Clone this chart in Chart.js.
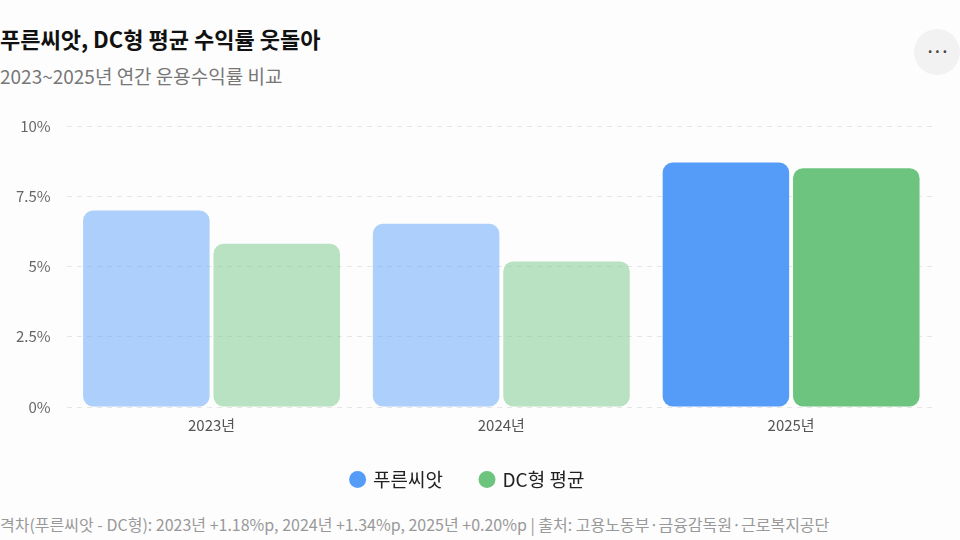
<!DOCTYPE html>
<html>
<head>
<meta charset="utf-8">
<script src="https://cdn.jsdelivr.net/npm/chart.js@4/dist/chart.umd.min.js"></script>
<style>
  body { margin: 0; background: #fdfdfd; font-family: "Noto Sans CJK KR", "Noto Sans", sans-serif; }
  #wrap { position: relative; width: 960px; height: 540px; overflow: hidden; }
  #title { position: absolute; left: 0; top: 22px; font-size: 22px; font-weight: bold; color: #111; }
  #subtitle { position: absolute; left: 0; top: 62px; font-size: 19px; color: #777; }
  #more { position: absolute; left: 914px; top: 29px; width: 46px; height: 46px; border-radius: 50%; background: #f2f2f2; color: #444; text-align: center; line-height: 44px; font-size: 14px; font-weight: bold; letter-spacing: -1px; }
  #box { position: absolute; left: 0; top: 101px; width: 960px; height: 398px; }
  #footer { position: absolute; left: 0; top: 512px; font-size: 16px; color: #999; }
</style>
</head>
<body>
<div id="wrap">
  <div id="box"><canvas id="chartCanvas"></canvas></div>
  <div id="title">푸른씨앗, DC형 평균 수익률 웃돌아</div>
  <div id="subtitle">2023~2025년 연간 운용수익률 비교</div>
  <div id="more">···</div>
  <div id="footer">격차(푸른씨앗 - DC형): 2023년 +1.18%p, 2024년 +1.34%p, 2025년 +0.20%p | 출처: 고용노동부·금융감독원·근로복지공단</div>
</div>
<script>
var years = ['2023년', '2024년', '2025년'];
var pureunValues = [6.99, 6.52, 8.70];
var dcValues = [5.81, 5.18, 8.50];
var yTicks = [0, 2.5, 5, 7.5, 10];

var blueSolid = 'rgba(85,156,248,1)';
var blueFade = 'rgba(85,156,248,0.48)';
var greenSolid = 'rgba(108,196,127,1)';
var greenFade = 'rgba(108,196,127,0.48)';

var ctx = document.getElementById('chartCanvas');

var myChart = new Chart(ctx, {
    type: 'bar',
    data: {
        labels: years,
        datasets: [{
            label: '푸른씨앗',
            data: pureunValues,
            backgroundColor: [blueFade, blueFade, blueSolid],
            borderWidth: 0,
            borderRadius: 10,
            borderSkipped: false
        },
        {
            label: 'DC형 평균',
            data: dcValues,
            backgroundColor: [greenFade, greenFade, greenSolid],
            borderWidth: 0,
            borderRadius: 10,
            borderSkipped: false
        }]
    },
    options: {
        responsive: true,
        maintainAspectRatio: false,
        animation: false,
        categoryPercentage: 0.9,
        barPercentage: 0.97,
        layout: { padding: { left: 0, right: 24, top: 7, bottom: 0 } },
        scales: {
            x: {
                grid: { display: false },
                border: { display: false },
                ticks: { color: '#555', padding: 1, font: { size: 15, family: '"Noto Sans CJK KR", sans-serif' } },
                afterFit: function(axis) { axis.height -= 3; }
            },
            y: {
                min: 0,
                max: 10,
                afterBuildTicks: function(axis) {
                    axis.ticks = yTicks.map(function(v) { return { value: v }; });
                },
                grid: { color: '#e6e6e6', lineWidth: 1, drawTicks: false },
                border: { display: false, dash: [5, 5] },
                ticks: {
                    padding: 16,
                    color: '#666',
                    font: { size: 15, family: '"Noto Sans CJK KR", sans-serif' },
                    callback: function(v) { return v + '%'; }
                }
            }
        },
        plugins: {
            legend: {
                display: true,
                position: 'bottom',
                labels: {
                    usePointStyle: true,
                    pointStyle: 'circle',
                    boxWidth: 12,
                    boxHeight: 12,
                    padding: 38,
                    color: '#222',
                    font: { size: 19, family: '"Noto Sans CJK KR", sans-serif' },
                    generateLabels: function(chart) {
                        return chart.data.datasets.map(function(ds, i) {
                            var c = i === 0 ? blueSolid : greenSolid;
                            return { text: ds.label, fillStyle: c, strokeStyle: c, lineWidth: 0, pointStyle: 'circle', datasetIndex: i, fontColor: '#222' };
                        });
                    }
                }
            },
            tooltip: { enabled: false }
        }
    }
});
</script>
</body>
</html>
